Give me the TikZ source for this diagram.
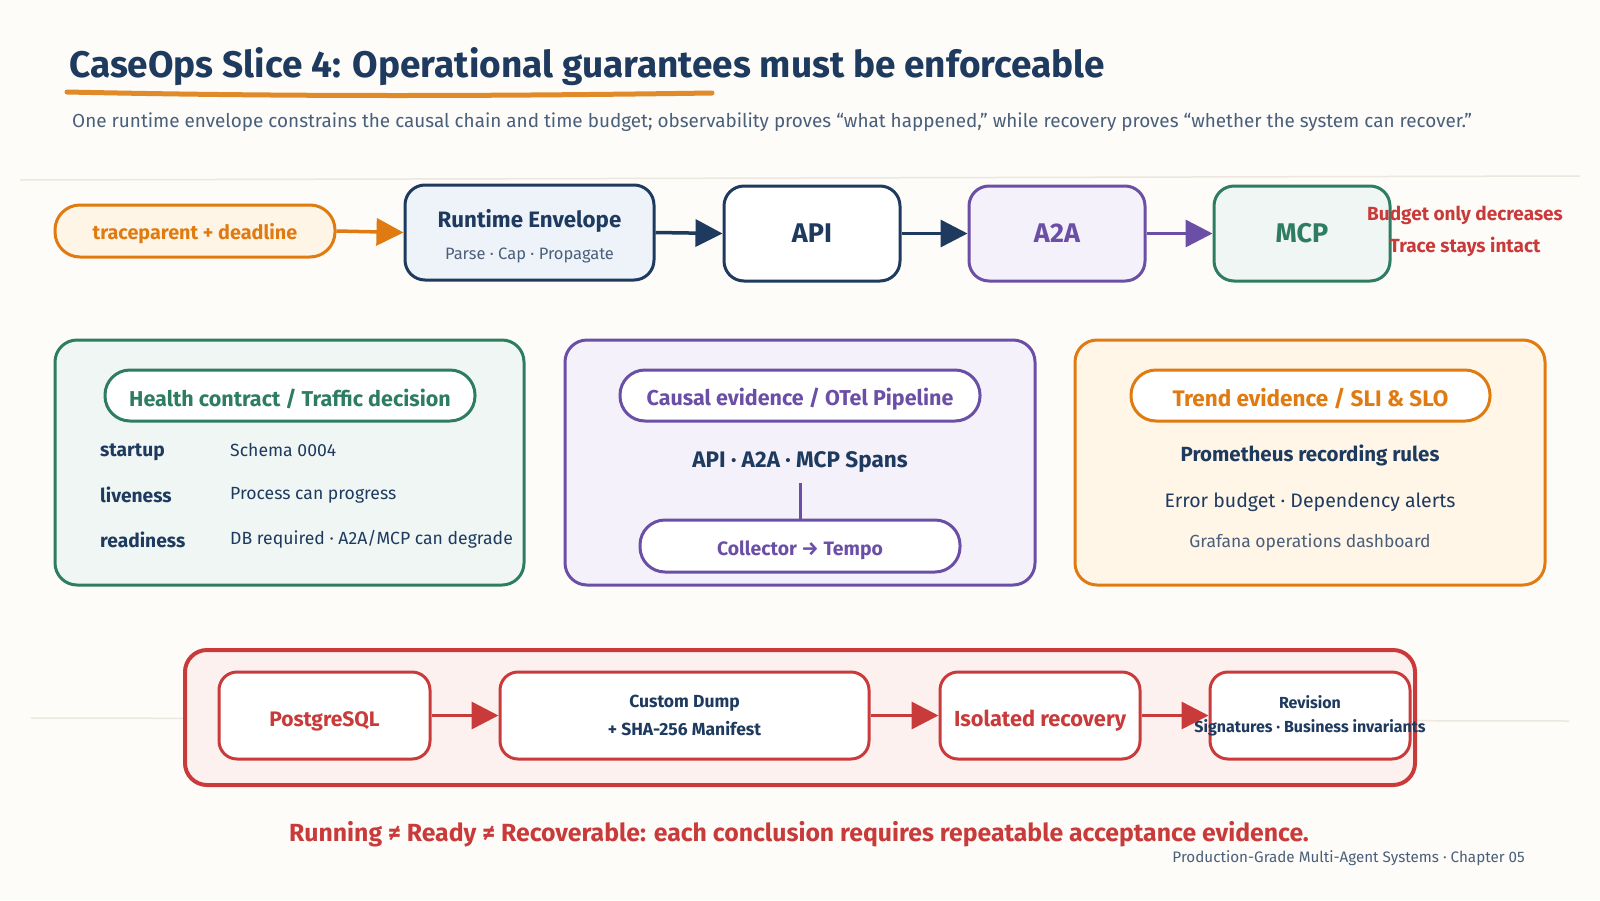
\documentclass[tikz,border=0pt]{standalone}
\usepackage{fontspec}
\setmainfont{Fira Sans}
\usetikzlibrary{arrows.meta}
\definecolor{bg}{HTML}{FDFCF8}
\definecolor{navy}{HTML}{1E3A5F}
\definecolor{orng}{HTML}{E07B12}
\definecolor{uline}{HTML}{E08A2A}
\definecolor{purp}{HTML}{6B4FA6}
\definecolor{grn}{HTML}{2E7D62}
\definecolor{red1}{HTML}{C93B3B}
\definecolor{slate}{HTML}{4A5F7A}
\definecolor{faint}{HTML}{ECE8DF}
\definecolor{lorng}{HTML}{FFF5E6}
\definecolor{lblue}{HTML}{EEF3FA}
\definecolor{llav}{HTML}{F4F1FA}
\definecolor{lgrn}{HTML}{EFF6F3}
\definecolor{lpink}{HTML}{FDF1F0}
\definecolor{lcream}{HTML}{FFF6E8}
\newcommand{\fsz}[1]{\fontsize{#1}{#1}\selectfont}
\tikzset{
  boxn/.style={draw, line width=3pt, rounded corners=20pt, inner sep=0pt, align=center, minimum height=95pt},
  pilln/.style={draw, line width=3pt, rounded corners=25pt, inner sep=0pt, align=center, minimum height=51pt, fill=white},
  paneln/.style={draw, line width=3pt, rounded corners=22pt, inner sep=0pt, minimum width=470pt, minimum height=245pt},
  bbox/.style={draw=red1, line width=3pt, rounded corners=18pt, fill=white, inner sep=0pt, minimum height=87pt, align=center},
  arr/.style={line width=3.5pt, -{Triangle[length=27pt,width=27pt]}},
  txt/.style={inner sep=0pt, align=center},
}
\begin{document}
\begin{tikzpicture}[x=1pt,y=-1pt]
\useasboundingbox[fill=bg] (0,0) rectangle (1600,900);
% faint rules
\coordinate (f1a) at (20,180); \coordinate (f1b) at (1580,176);
\coordinate (f2a) at (31,718); \coordinate (f2b) at (1569,721);
\draw[faint, line width=1.5pt] (f1a) -- (f1b);
\draw[faint, line width=1.5pt] (f2a) -- (f2b);
% title
\node[txt, anchor=base west, text=navy] (title) at (69,77) {\fsz{37}\bfseries CaseOps Slice 4: Operational guarantees must be enforceable};
\coordinate (ula) at (67,92); \coordinate (ulb) at (712,93);
\draw[uline, line width=5pt, line cap=round] (ula) .. controls (300,97) and (500,96) .. (ulb);
\node[txt, anchor=base west, text=slate] (sub) at (72,127) {\fsz{18.9}One runtime envelope constrains the causal chain and time budget; observability proves “what happened,” while recovery proves “whether the system can recover.”};
% top row
\node[draw=orng, fill=lorng, line width=3pt, rounded corners=25pt, minimum width=280pt, minimum height=52pt, inner sep=0pt] (trace) at (195,231) {};
\node[txt, text=orng] (traceT) at (195,234) {\fsz{19.8}\bfseries traceparent + deadline};
\node[boxn, draw=navy, fill=lblue, minimum width=249pt] (env) at (529.5,232.5) {};
\node[txt, text=navy] (envT) at (529.5,221) {\fsz{22.3}\bfseries Runtime Envelope};
\node[txt, text=slate] (envS) at (529.5,255) {\fsz{16.5}Parse · Cap · Propagate};
\node[boxn, draw=navy, fill=white, minimum width=176pt, text=navy] (api) at (812,233.5) {\fsz{27}\bfseries API};
\node[boxn, draw=purp, fill=llav, minimum width=176pt, text=purp] (a2a) at (1057,233.5) {\fsz{27}\bfseries A2A};
\node[boxn, draw=grn, fill=lgrn, minimum width=176pt, text=grn] (mcp) at (1302,233.5) {\fsz{27}\bfseries MCP};
\draw[arr, orng] (trace.east) -- (env.west);
\draw[arr, navy] (env.east) -- (api.west);
\draw[arr, navy] (api.east) -- (a2a.west);
\draw[arr, purp] (a2a.east) -- (mcp.west);
\node[txt, text=red1] (bud) at (1465,215) {\fsz{19}\bfseries Budget only decreases};
\node[txt, text=red1] (trc) at (1465,247) {\fsz{19}\bfseries Trace stays intact};
% panel 1
\node[paneln, draw=grn, fill=lgrn, minimum width=469pt] (p1) at (289.5,462.5) {};
\node[pilln, draw=grn, minimum width=370pt] (p1h) at (290,395.5) {};
\node[txt, text=grn] (p1t) at (290,398.5) {\fsz{21.5}\bfseries Health contract / Traffic decision};
\node[txt, anchor=west, text=navy] (l1) at (100,452) {\fsz{19.2}\bfseries startup};
\node[txt, anchor=west, text=navy] (l2) at (100,495) {\fsz{19.2}\bfseries liveness};
\node[txt, anchor=west, text=navy] (l3) at (100,540) {\fsz{19.2}\bfseries readiness};
\node[txt, anchor=west, text=navy] (v1) at (230,450) {\fsz{17.6}Schema 0004};
\node[txt, anchor=west, text=navy] (v2) at (230,495) {\fsz{17.6}Process can progress};
\node[txt, anchor=west, text=navy] (v3) at (230,539) {\fsz{17.6}DB required · A2A/MCP can degrade};
% panel 2
\node[paneln, draw=purp, fill=llav] (p2) at (800,462.5) {};
\node[pilln, draw=purp, minimum width=360pt] (p2h) at (800,395.5) {};
\node[txt, text=purp] (p2t) at (800,399) {\fsz{21.5}\bfseries Causal evidence / OTel Pipeline};
\node[txt, text=navy] (spans) at (800,462) {\fsz{22.5}\bfseries API · A2A · MCP Spans};
\node[pilln, draw=purp, minimum width=320pt, minimum height=52pt] (coll) at (800,546) {};
\node[txt, text=purp] (collT) at (800,550) {\fsz{19.4}\bfseries Collector → Tempo};
\draw[purp, line width=3pt, shorten <=10pt] (spans.south) -- (coll.north);
% panel 3
\node[paneln, draw=orng, fill=lcream] (p3) at (1310,462.5) {};
\node[pilln, draw=orng, minimum width=359pt] (p3h) at (1310.5,395.5) {};
\node[txt, text=orng] (p3t) at (1310.5,398.5) {\fsz{22.5}\bfseries Trend evidence / SLI \& SLO};
\node[txt, text=navy] (prom) at (1310,455) {\fsz{20.5}\bfseries Prometheus recording rules};
\node[txt, text=navy] (err) at (1310,502) {\fsz{19.5}Error budget · Dependency alerts};
\node[txt, text=slate] (graf) at (1310,543) {\fsz{17.5}Grafana operations dashboard};
% bottom panel
\node[draw=red1, fill=lpink, line width=4pt, rounded corners=22pt, minimum width=1230pt, minimum height=135pt, inner sep=0pt] (bp) at (800,717.5) {};
\node[bbox, minimum width=211pt] (pg) at (324.5,715.5) {};
\node[txt, text=red1] (pgT) at (324.5,721) {\fsz{21}\bfseries PostgreSQL};
\node[bbox, minimum width=369pt] (dump) at (684.5,715.5) {};
\node[txt, text=navy] (dumpA) at (684.5,703) {\fsz{17.5}\bfseries Custom Dump};
\node[txt, text=navy] (dumpB) at (684.5,729) {\fsz{17.5}\bfseries + SHA-256 Manifest};
\node[bbox, minimum width=200pt] (iso) at (1040,715.5) {};
\node[txt, text=red1] (isoT) at (1040,721) {\fsz{21.8}\bfseries Isolated recovery};
\node[bbox, minimum width=200pt] (rev) at (1310,715.5) {};
\node[txt, text=navy] (revA) at (1310,702) {\fsz{16}\bfseries Revision};
\node[txt, text=navy] (revB) at (1310,728) {\fsz{16}\bfseries Signatures · Business invariants};
\draw[arr, red1] (pg.east) -- (dump.west);
\draw[arr, red1] (dump.east) -- (iso.west);
\draw[arr, red1] (iso.east) -- (rev.west);
% footer
\node[txt, text=red1] (foot) at (799,834) {\fsz{24.8}\bfseries Running ≠ Ready ≠ Recoverable: each conclusion requires repeatable acceptance evidence.};
\node[txt, anchor=east, text=slate] (chap) at (1525,858) {\fsz{15.2}Production-Grade Multi-Agent Systems · Chapter 05};
\end{tikzpicture}
\end{document}
